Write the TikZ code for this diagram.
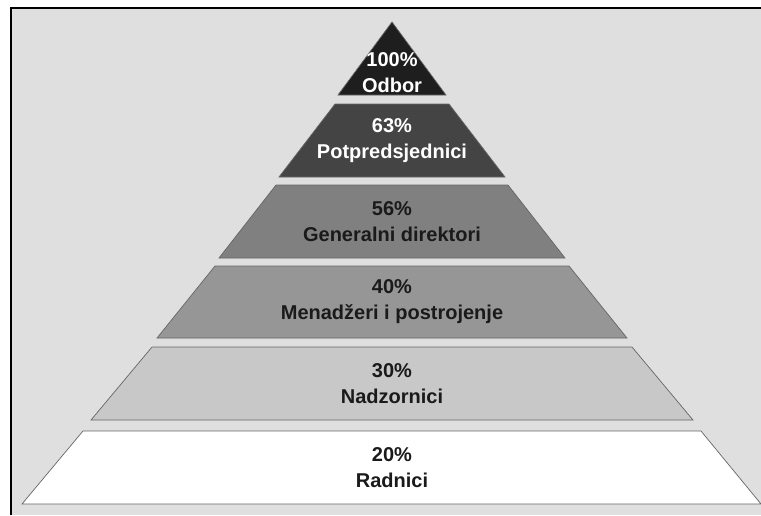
\documentclass[tikz,border=0pt]{standalone}
\usepackage{fontspec}
\setmainfont{Liberation Sans}
\usepackage{xcolor}
\definecolor{bggray}{HTML}{DFDFDF}
\definecolor{lvlA}{HTML}{1E1E1E}
\definecolor{lvlB}{HTML}{444444}
\definecolor{lvlC}{HTML}{808080}
\definecolor{lvlD}{HTML}{969696}
\definecolor{lvlE}{HTML}{C8C8C8}
\definecolor{lvlF}{HTML}{FFFFFF}
\definecolor{txtdark}{HTML}{1A1A1A}
\tikzset{
  band/.style={draw=black!60, line width=0.7pt, line join=miter},
  lbl/.style={align=center, inner sep=0pt, font=\fontsize{20}{26}\selectfont\bfseries},
}

\begin{document}
\begin{tikzpicture}[x=1pt,y=-1pt]
\useasboundingbox (0,0) rectangle (761,515);
\fill[bggray] (11,7.5) rectangle (761,515);
\draw[line width=2pt] (11,515) -- (11,7.5) -- (761,7.5);
% pyramid levels, top to bottom
\draw[band,fill=lvlA] (392,22) -- (446,95) -- (338,95) -- cycle;
\draw[band,fill=lvlB] (335,104) -- (449,104) -- (505,177) -- (279,177) -- cycle;
\draw[band,fill=lvlC] (276,185) -- (508,185) -- (565,258) -- (219,258) -- cycle;
\draw[band,fill=lvlD] (215,266) -- (569,266) -- (627,338) -- (157,338) -- cycle;
\draw[band,fill=lvlE] (152,347) -- (632,347) -- (693,420) -- (91,420) -- cycle;
\draw[band,fill=lvlF] (83,431) -- (701,431) -- (761,504) -- (22,504) -- cycle;
% labels
\node[lbl,text=white] (odbor) at (392,73) {100\%\\Odbor};
\node[lbl,text=white] (potpred) at (392,141) {63\%\\Potpredsjednici};
\node[lbl,text=txtdark] (gendir) at (392,222) {56\%\\Generalni direktori};
\node[lbl,text=txtdark] (menadz) at (392,302) {40\%\\Menadžeri i postrojenje};
\node[lbl,text=txtdark] (nadzor) at (392,384) {30\%\\Nadzornici};
\node[lbl,text=txtdark] (radnici) at (392,468) {20\%\\Radnici};
\end{tikzpicture}
\end{document}
